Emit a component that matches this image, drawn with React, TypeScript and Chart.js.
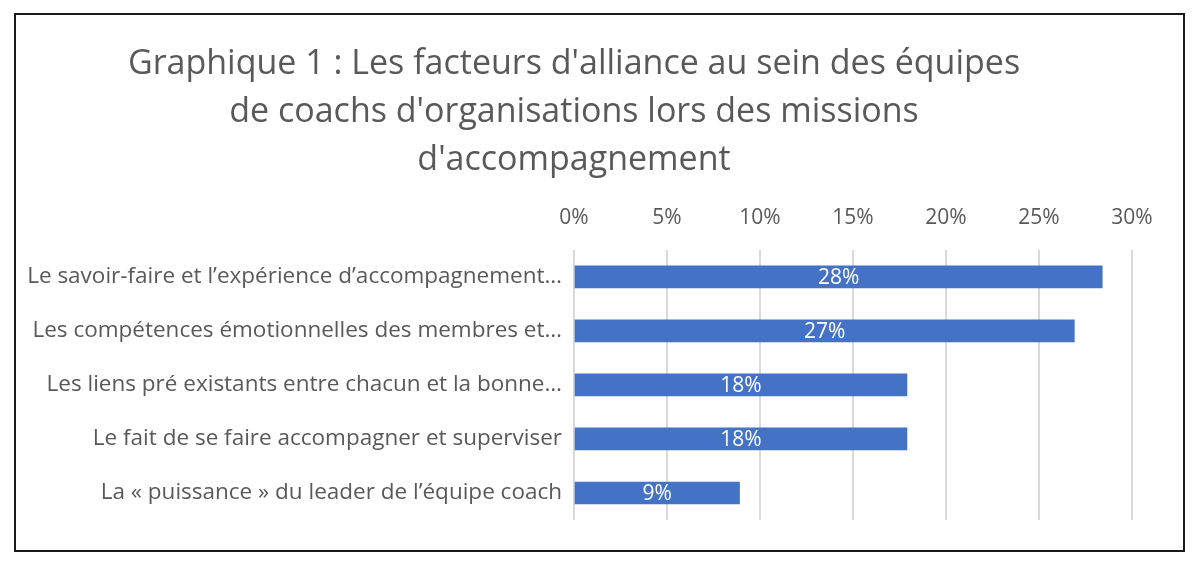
import React, { useEffect, useRef } from "react";
import { Chart, registerables } from "chart.js";

Chart.register(...registerables);

const titleLines = [
  "Graphique 1 : Les facteurs d'alliance au sein des équipes",
  "de coachs d'organisations lors des missions",
  "d'accompagnement",
];

const categories = [
  "Le savoir-faire et l’expérience d’accompagnement…",
  "Les compétences émotionnelles des membres et…",
  "Les liens pré existants entre chacun et la bonne…",
  "Le fait de se faire accompagner et superviser",
  "La « puissance » du leader de l’équipe coach",
];

// share of responses, in percent
const shares = [28.4, 26.9, 17.9, 17.9, 8.9];

const axisMax = 30;
const axisStep = 5;

const FONT = "'Open Sans', Lato, sans-serif";
const TEXT = "#595959";
const BAR = "#4472C4";

const barValueLabels = {
  id: "barValueLabels",
  afterDatasetsDraw(chart: any) {
    const { ctx } = chart;
    const meta = chart.getDatasetMeta(0);
    ctx.save();
    ctx.fillStyle = "#ffffff";
    ctx.font = `21px ${FONT}`;
    ctx.textAlign = "center";
    ctx.textBaseline = "middle";
    meta.data.forEach((bar: any, i: number) => {
      const v = chart.data.datasets[0].data[i] as number;
      const cx = (bar.base + bar.x) / 2;
      ctx.fillText(`${Math.round(v)}%`, cx, bar.y + 1);
    });
    ctx.restore();
  },
};

export default function App() {
  const canvasRef = useRef<HTMLCanvasElement>(null);

  useEffect(() => {
    if (!canvasRef.current) return;
    const chart = new Chart(canvasRef.current, {
      type: "bar",
      data: {
        labels: categories,
        datasets: [
          {
            data: shares,
            backgroundColor: BAR,
            barThickness: 22,
          },
        ],
      },
      options: {
        indexAxis: "y",
        animation: false,
        responsive: true,
        maintainAspectRatio: false,
        layout: { padding: { left: 0, right: 51, bottom: 30, top: 0 } },
        plugins: {
          legend: { display: false },
          tooltip: { enabled: false },
          title: {
            display: true,
            text: titleLines,
            color: TEXT,
            font: { family: FONT, size: 34, weight: "normal", lineHeight: 1.41 },
            padding: { top: 25, bottom: 8 },
          },
        },
        scales: {
          x: {
            position: "top",
            min: 0,
            max: axisMax,
            grid: { color: "#d9d9d9", lineWidth: 2, drawTicks: false },
            border: { display: false },
            ticks: {
              stepSize: axisStep,
              color: TEXT,
              font: { family: FONT, size: 21 },
              padding: 19,
              callback: (v: any) => `${v}%`,
            },
            afterFit: (scale: any) => {
              scale.height = 58;
            },
          },
          y: {
            grid: { display: false },
            border: { display: false },
            ticks: {
              color: TEXT,
              font: { family: FONT, size: 22.5 },
              padding: 4,
            },
            afterFit: (scale: any) => {
              scale.width = 558;
            },
          },
        },
      },
      plugins: [barValueLabels],
    });
    return () => chart.destroy();
  }, []);

  return (
    <div
      style={{
        position: "relative",
        boxSizing: "border-box",
        width: 1171,
        height: 539,
        margin: "5px 0 0 6px",
        border: "2px solid #1a1a1a",
        background: "#fff",
      }}
    >
      <canvas ref={canvasRef} />
    </div>
  );
}
